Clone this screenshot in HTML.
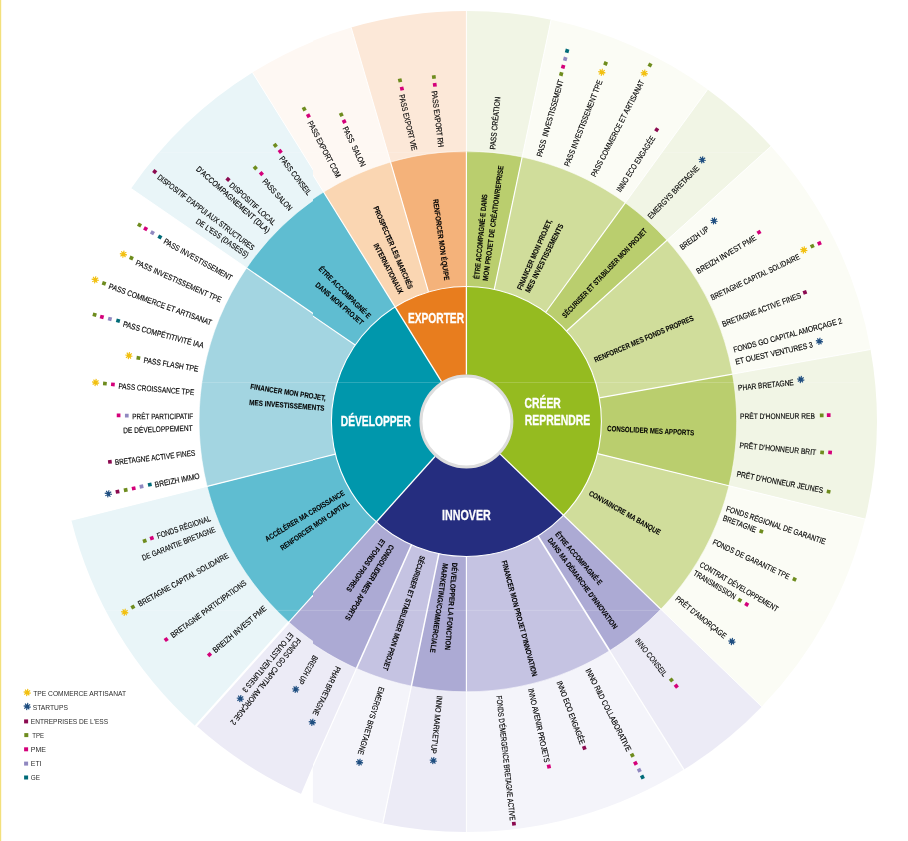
<!DOCTYPE html>
<html lang="fr">
<head>
<meta charset="utf-8">
<title>Dispositifs d'accompagnement</title>
<style>
html,body{margin:0;padding:0;background:#fff;}
body{width:908px;height:841px;overflow:hidden;font-family:"Liberation Sans",sans-serif;}
</style>
</head>
<body>
<svg width="908" height="841" viewBox="0 0 908 841" font-family="'Liberation Sans', sans-serif" style="display:block">
<rect x="0" y="0" width="908" height="841" fill="#ffffff"/>
<rect x="0" y="0" width="1.2" height="841" fill="#F3E07C"/>
<defs>
<clipPath id="cR"><rect x="313" y="0" width="600" height="841"/></clipPath>
<clipPath id="cL"><rect x="0" y="0" width="313" height="841"/></clipPath>
<g id="rings">
<path d="M466.40,151.70 L466.40,11.00 A410.50,410.50 0 0 1 551.05,19.82 L522.03,157.50 A269.80,269.80 0 0 0 466.40,151.70 Z" fill="#F1F5E5" />
<path d="M522.03,157.50 L551.05,19.82 A410.50,410.50 0 0 1 707.69,89.40 L624.98,203.23 A269.80,269.80 0 0 0 522.03,157.50 Z" fill="#FBFCF5" />
<path d="M624.98,203.23 L707.69,89.40 A410.50,410.50 0 0 1 770.98,146.29 L666.59,240.62 A269.80,269.80 0 0 0 624.98,203.23 Z" fill="#F1F5E5" />
<path d="M666.59,240.62 L770.98,146.29 A410.50,410.50 0 0 1 870.54,349.51 L732.02,374.19 A269.80,269.80 0 0 0 666.59,240.62 Z" fill="#FBFCF5" />
<path d="M732.02,374.19 L870.54,349.51 A410.50,410.50 0 0 1 865.14,519.07 L728.47,485.63 A269.80,269.80 0 0 0 732.02,374.19 Z" fill="#F1F5E5" />
<path d="M728.47,485.63 L865.14,519.07 A410.50,410.50 0 0 1 761.69,706.66 L660.48,608.92 A269.80,269.80 0 0 0 728.47,485.63 Z" fill="#FBFCF5" />
<path d="M660.48,608.92 L761.69,706.66 A410.50,410.50 0 0 1 683.93,769.62 L609.37,650.30 A269.80,269.80 0 0 0 660.48,608.92 Z" fill="#ECEBF6" />
<path d="M609.37,650.30 L683.93,769.62 A410.50,410.50 0 0 1 466.40,832.00 L466.40,691.30 A269.80,269.80 0 0 0 609.37,650.30 Z" fill="#F4F4FA" />
<path d="M466.40,691.30 L466.40,832.00 A410.50,410.50 0 0 1 382.81,823.40 L411.46,685.65 A269.80,269.80 0 0 0 466.40,691.30 Z" fill="#ECEBF6" />
<path d="M411.46,685.65 L382.81,823.40 A410.50,410.50 0 0 1 299.43,796.51 L356.66,667.97 A269.80,269.80 0 0 0 411.46,685.65 Z" fill="#F4F4FA" />
<path d="M356.66,667.97 L299.96,795.32 A409.20,409.20 0 0 1 193.12,726.07 L286.22,622.32 A269.80,269.80 0 0 0 356.66,667.97 Z" fill="#ECEBF6" />
<path d="M286.22,622.32 L192.46,726.82 A410.20,410.20 0 0 1 68.38,520.74 L204.61,486.77 A269.80,269.80 0 0 0 286.22,622.32 Z" fill="#E9F5F8" />
<path d="M204.61,486.77 L68.09,520.81 A410.50,410.50 0 0 1 128.10,188.99 L244.05,268.68 A269.80,269.80 0 0 0 204.61,486.77 Z" fill="#FFFFFF" />
<path d="M244.05,268.68 L128.10,188.99 A410.50,410.50 0 0 1 249.48,73.00 L323.83,192.45 A269.80,269.80 0 0 0 244.05,268.68 Z" fill="#E9F5F8" />
<path d="M323.83,192.45 L249.48,73.00 A410.50,410.50 0 0 1 351.19,27.50 L390.68,162.54 A269.80,269.80 0 0 0 323.83,192.45 Z" fill="#FEF8F3" />
<path d="M390.68,162.54 L351.19,27.50 A410.50,410.50 0 0 1 466.40,11.00 L466.40,151.70 A269.80,269.80 0 0 0 390.68,162.54 Z" fill="#FCE8D8" />
<path d="M466.40,287.00 L466.40,151.20 A270.30,270.30 0 0 1 522.14,157.01 L494.13,289.89 A134.50,134.50 0 0 0 466.40,287.00 Z" fill="#BACE6E" />
<path d="M494.13,289.89 L522.14,157.01 A270.30,270.30 0 0 1 625.28,202.82 L545.46,312.69 A134.50,134.50 0 0 0 494.13,289.89 Z" fill="#D0DD9B" />
<path d="M545.46,312.69 L625.28,202.82 A270.30,270.30 0 0 1 666.96,240.28 L566.20,331.33 A134.50,134.50 0 0 0 545.46,312.69 Z" fill="#BACE6E" />
<path d="M566.20,331.33 L666.96,240.28 A270.30,270.30 0 0 1 732.51,374.10 L598.82,397.91 A134.50,134.50 0 0 0 566.20,331.33 Z" fill="#D0DD9B" />
<path d="M598.82,397.91 L732.51,374.10 A270.30,270.30 0 0 1 728.95,485.75 L597.05,453.47 A134.50,134.50 0 0 0 598.82,397.91 Z" fill="#BACE6E" />
<path d="M597.05,453.47 L728.95,485.75 A270.30,270.30 0 0 1 660.84,609.27 L563.15,514.93 A134.50,134.50 0 0 0 597.05,453.47 Z" fill="#D0DD9B" />
<path d="M563.15,514.93 L660.84,609.27 A270.30,270.30 0 0 1 609.64,650.73 L537.67,535.56 A134.50,134.50 0 0 0 563.15,514.93 Z" fill="#ACAAD4" />
<path d="M537.67,535.56 L609.64,650.73 A270.30,270.30 0 0 1 466.40,691.80 L466.40,556.00 A134.50,134.50 0 0 0 537.67,535.56 Z" fill="#C5C3E2" />
<path d="M466.40,556.00 L466.40,691.80 A270.30,270.30 0 0 1 411.36,686.14 L439.01,553.18 A134.50,134.50 0 0 0 466.40,556.00 Z" fill="#ACAAD4" />
<path d="M439.01,553.18 L411.36,686.14 A270.30,270.30 0 0 1 356.46,668.43 L411.69,544.37 A134.50,134.50 0 0 0 439.01,553.18 Z" fill="#C5C3E2" />
<path d="M411.69,544.37 L356.46,668.43 A270.30,270.30 0 0 1 285.88,622.69 L376.58,521.61 A134.50,134.50 0 0 0 411.69,544.37 Z" fill="#ACAAD4" />
<path d="M376.58,521.61 L285.88,622.69 A270.30,270.30 0 0 1 204.13,486.89 L335.90,454.04 A134.50,134.50 0 0 0 376.58,521.61 Z" fill="#5FBDD1" />
<path d="M335.90,454.04 L204.13,486.89 A270.30,270.30 0 0 1 243.64,268.40 L355.56,345.32 A134.50,134.50 0 0 0 335.90,454.04 Z" fill="#A3D5E1" />
<path d="M355.56,345.32 L243.64,268.40 A270.30,270.30 0 0 1 323.56,192.02 L395.33,307.31 A134.50,134.50 0 0 0 355.56,345.32 Z" fill="#5FBDD1" />
<path d="M395.33,307.31 L323.56,192.02 A270.30,270.30 0 0 1 390.54,162.06 L428.65,292.41 A134.50,134.50 0 0 0 395.33,307.31 Z" fill="#FAD6B2" />
<path d="M428.65,292.41 L390.54,162.06 A270.30,270.30 0 0 1 466.40,151.20 L466.40,287.00 A134.50,134.50 0 0 0 428.65,292.41 Z" fill="#F4B27A" />
<path d="M466.40,376.50 L466.40,286.50 A135.00,135.00 0 0 1 563.51,515.28 L498.77,452.76 A45.00,45.00 0 0 0 466.40,376.50 Z" fill="#95BB20" />
<path d="M498.77,452.76 L563.51,515.28 A135.00,135.00 0 0 1 376.24,521.98 L436.35,454.99 A45.00,45.00 0 0 0 498.77,452.76 Z" fill="#252D7F" />
<path d="M436.35,454.99 L376.24,521.98 A135.00,135.00 0 0 1 395.06,306.89 L442.62,383.30 A45.00,45.00 0 0 0 436.35,454.99 Z" fill="#0097AC" />
<path d="M442.62,383.30 L395.06,306.89 A135.00,135.00 0 0 1 466.40,286.50 L466.40,376.50 A45.00,45.00 0 0 0 442.62,383.30 Z" fill="#E87D1E" />
<line x1="466.40" y1="151.20" x2="466.40" y2="11.00" stroke="#ffffff" stroke-width="0.9" stroke-opacity="1"/>
<line x1="466.40" y1="286.50" x2="466.40" y2="151.20" stroke="#ffffff" stroke-width="1.15" stroke-opacity="1"/>
<line x1="522.14" y1="157.01" x2="551.05" y2="19.82" stroke="#ffffff" stroke-width="0.9" stroke-opacity="1"/>
<line x1="494.24" y1="289.40" x2="522.14" y2="157.01" stroke="#ffffff" stroke-width="1.15" stroke-opacity="1"/>
<line x1="625.28" y1="202.82" x2="707.69" y2="89.40" stroke="#ffffff" stroke-width="0.9" stroke-opacity="1"/>
<line x1="545.75" y1="312.28" x2="625.28" y2="202.82" stroke="#ffffff" stroke-width="1.15" stroke-opacity="1"/>
<line x1="666.96" y1="240.28" x2="770.98" y2="146.29" stroke="#ffffff" stroke-width="0.9" stroke-opacity="1"/>
<line x1="566.57" y1="330.99" x2="666.96" y2="240.28" stroke="#ffffff" stroke-width="1.15" stroke-opacity="1"/>
<line x1="732.51" y1="374.10" x2="870.54" y2="349.51" stroke="#ffffff" stroke-width="0.9" stroke-opacity="1"/>
<line x1="599.31" y1="397.83" x2="732.51" y2="374.10" stroke="#ffffff" stroke-width="1.15" stroke-opacity="1"/>
<line x1="728.95" y1="485.75" x2="865.14" y2="519.07" stroke="#ffffff" stroke-width="0.9" stroke-opacity="1"/>
<line x1="597.53" y1="453.59" x2="728.95" y2="485.75" stroke="#ffffff" stroke-width="1.15" stroke-opacity="1"/>
<line x1="660.84" y1="609.27" x2="761.69" y2="706.66" stroke="#ffffff" stroke-width="0.9" stroke-opacity="1"/>
<line x1="563.51" y1="515.28" x2="660.84" y2="609.27" stroke="#ffffff" stroke-width="1.15" stroke-opacity="1"/>
<line x1="609.64" y1="650.73" x2="683.93" y2="769.62" stroke="#ffffff" stroke-width="1.3" stroke-opacity="1"/>
<line x1="537.94" y1="535.99" x2="609.64" y2="650.73" stroke="#ffffff" stroke-width="1.7" stroke-opacity="1"/>
<line x1="466.40" y1="691.80" x2="466.40" y2="832.00" stroke="#ffffff" stroke-width="0.9" stroke-opacity="1"/>
<line x1="466.40" y1="556.50" x2="466.40" y2="691.80" stroke="#ffffff" stroke-width="1.15" stroke-opacity="1"/>
<line x1="411.36" y1="686.14" x2="382.81" y2="823.40" stroke="#ffffff" stroke-width="1.2" stroke-opacity="1"/>
<line x1="438.91" y1="553.67" x2="411.36" y2="686.14" stroke="#ffffff" stroke-width="1.5" stroke-opacity="1"/>
<line x1="356.46" y1="668.43" x2="299.96" y2="795.32" stroke="#ffffff" stroke-width="1.2" stroke-opacity="1"/>
<line x1="411.49" y1="544.83" x2="356.46" y2="668.43" stroke="#ffffff" stroke-width="1.5" stroke-opacity="1"/>
<line x1="285.88" y1="622.69" x2="193.12" y2="726.07" stroke="#ffffff" stroke-width="0.9" stroke-opacity="1"/>
<line x1="376.24" y1="521.98" x2="285.88" y2="622.69" stroke="#ffffff" stroke-width="1.15" stroke-opacity="1"/>
<line x1="204.13" y1="486.89" x2="68.38" y2="520.74" stroke="#ffffff" stroke-width="0.9" stroke-opacity="1"/>
<line x1="335.41" y1="454.16" x2="204.13" y2="486.89" stroke="#ffffff" stroke-width="1.15" stroke-opacity="1"/>
<line x1="243.64" y1="268.40" x2="128.10" y2="188.99" stroke="#ffffff" stroke-width="0.9" stroke-opacity="1"/>
<line x1="355.14" y1="345.04" x2="243.64" y2="268.40" stroke="#ffffff" stroke-width="1.15" stroke-opacity="1"/>
<line x1="323.56" y1="192.02" x2="249.48" y2="73.00" stroke="#ffffff" stroke-width="0.9" stroke-opacity="1"/>
<line x1="395.06" y1="306.89" x2="323.56" y2="192.02" stroke="#ffffff" stroke-width="1.15" stroke-opacity="1"/>
<line x1="390.54" y1="162.06" x2="351.19" y2="27.50" stroke="#ffffff" stroke-width="0.9" stroke-opacity="1"/>
<line x1="428.51" y1="291.93" x2="390.54" y2="162.06" stroke="#ffffff" stroke-width="1.15" stroke-opacity="1"/>
<line x1="466.40" y1="374.50" x2="466.40" y2="286.50" stroke="#ffffff" stroke-width="1.3" stroke-opacity="1"/>
<line x1="500.21" y1="454.15" x2="563.51" y2="515.28" stroke="#ffffff" stroke-width="1.3" stroke-opacity="1"/>
<line x1="435.01" y1="456.48" x2="376.24" y2="521.98" stroke="#ffffff" stroke-width="1.3" stroke-opacity="1"/>
<line x1="441.56" y1="381.60" x2="395.06" y2="306.89" stroke="#ffffff" stroke-width="1.3" stroke-opacity="1"/>
<line x1="285.88" y1="622.69" x2="192.59" y2="726.67" stroke="#ffffff" stroke-width="2.2" stroke-opacity="1"/>
<circle cx="466.4" cy="421.5" r="135.0" fill="none" stroke="#ffffff" stroke-width="1.1"/>
<circle cx="466.4" cy="421.5" r="270.3" fill="none" stroke="#ffffff" stroke-width="0.7" stroke-opacity="0.8"/>
<circle cx="466.4" cy="421.5" r="45.5" fill="#ffffff" stroke="#DDDDDD" stroke-width="3"/>
</g>
</defs>
<g clip-path="url(#cR)"><use href="#rings"/></g>
<g clip-path="url(#cL)"><use href="#rings" transform="translate(3,-0.5)"/></g>
<path d="M312.9,766 L312.9,805 L296,805 L301.2,793.6 Z" fill="#ffffff"/>
<rect x="60" y="151.9" width="800" height="0.8" fill="#ffffff" fill-opacity="0.22"/>
<rect x="60" y="382.0" width="800" height="0.8" fill="#ffffff" fill-opacity="0.22"/>
<rect x="60" y="609.9" width="800" height="0.8" fill="#ffffff" fill-opacity="0.22"/>
<g>
<rect x="-1.85" y="-1.85" width="3.7" height="3.7" fill="#6E8C1E" transform="translate(561.20,74.10) rotate(-74.1)"/>
<rect x="-1.85" y="-1.85" width="3.7" height="3.7" fill="#D4007A" transform="translate(563.10,66.70) rotate(-74.1)"/>
<rect x="-1.85" y="-1.85" width="3.7" height="3.7" fill="#9088C0" transform="translate(565.20,58.90) rotate(-74.1)"/>
<rect x="-1.85" y="-1.85" width="3.7" height="3.7" fill="#006B78" transform="translate(567.10,50.90) rotate(-74.1)"/>
<path d="M598.25,71.67L605.35,72.93 M599.74,69.35L603.86,75.25 M602.43,68.75L601.17,75.85 M604.75,70.24L598.85,74.36" stroke="#F2C010" stroke-width="1.15" fill="none"/><circle cx="601.80" cy="72.30" r="1.9" fill="#F2C010"/>
<rect x="-1.85" y="-1.85" width="3.7" height="3.7" fill="#6E8C1E" transform="translate(605.60,63.50) rotate(-68.6)"/>
<path d="M640.75,72.57L647.85,73.83 M642.24,70.25L646.36,76.15 M644.93,69.65L643.67,76.75 M647.25,71.14L641.35,75.26" stroke="#F2C010" stroke-width="1.15" fill="none"/><circle cx="644.30" cy="73.20" r="1.9" fill="#F2C010"/>
<rect x="-1.85" y="-1.85" width="3.7" height="3.7" fill="#6E8C1E" transform="translate(650.00,65.00) rotate(-62.8)"/>
<rect x="-1.85" y="-1.85" width="3.7" height="3.7" fill="#8B0A50" transform="translate(656.70,129.70) rotate(-57.2)"/>
<path d="M698.65,159.27L705.75,160.53 M700.14,156.95L704.26,162.85 M702.83,156.35L701.57,163.45 M705.15,157.84L699.25,161.96" stroke="#1F4E80" stroke-width="1.15" fill="none"/><circle cx="702.20" cy="159.90" r="1.9" fill="#1F4E80"/>
<path d="M710.45,220.27L717.55,221.53 M711.94,217.95L716.06,223.85 M714.63,217.35L713.37,224.45 M716.95,218.84L711.05,222.96" stroke="#1F4E80" stroke-width="1.15" fill="none"/><circle cx="714.00" cy="220.90" r="1.9" fill="#1F4E80"/>
<rect x="-1.85" y="-1.85" width="3.7" height="3.7" fill="#D4007A" transform="translate(759.00,232.30) rotate(-30.6)"/>
<path d="M800.25,249.37L807.35,250.63 M801.74,247.05L805.86,252.95 M804.43,246.45L803.17,253.55 M806.75,247.94L800.85,252.06" stroke="#F2C010" stroke-width="1.15" fill="none"/><circle cx="803.80" cy="250.00" r="1.9" fill="#F2C010"/>
<rect x="-1.85" y="-1.85" width="3.7" height="3.7" fill="#6E8C1E" transform="translate(812.30,246.10) rotate(-25.3)"/>
<rect x="-1.85" y="-1.85" width="3.7" height="3.7" fill="#D4007A" transform="translate(819.40,243.30) rotate(-25.3)"/>
<rect x="-1.85" y="-1.85" width="3.7" height="3.7" fill="#8B0A50" transform="translate(804.90,292.40) rotate(-20.4)"/>
<path d="M815.85,340.67L822.95,341.93 M817.34,338.35L821.46,344.25 M820.03,337.75L818.77,344.85 M822.35,339.24L816.45,343.36" stroke="#1F4E80" stroke-width="1.15" fill="none"/><circle cx="819.40" cy="341.30" r="1.9" fill="#1F4E80"/>
<path d="M797.25,378.87L804.35,380.13 M798.74,376.55L802.86,382.45 M801.43,375.95L800.17,383.05 M803.75,377.44L797.85,381.56" stroke="#1F4E80" stroke-width="1.15" fill="none"/><circle cx="800.80" cy="379.50" r="1.9" fill="#1F4E80"/>
<rect x="-1.85" y="-1.85" width="3.7" height="3.7" fill="#6E8C1E" transform="translate(821.70,415.30) rotate(-0.3)"/>
<rect x="-1.85" y="-1.85" width="3.7" height="3.7" fill="#D4007A" transform="translate(828.70,415.10) rotate(-0.3)"/>
<rect x="-1.85" y="-1.85" width="3.7" height="3.7" fill="#6E8C1E" transform="translate(822.10,452.40) rotate(5.3)"/>
<rect x="-1.85" y="-1.85" width="3.7" height="3.7" fill="#D4007A" transform="translate(830.10,452.40) rotate(5.3)"/>
<rect x="-1.85" y="-1.85" width="3.7" height="3.7" fill="#6E8C1E" transform="translate(828.60,491.60) rotate(10.8)"/>
<rect x="-1.85" y="-1.85" width="3.7" height="3.7" fill="#6E8C1E" transform="translate(761.30,531.40) rotate(20.5)"/>
<rect x="-1.85" y="-1.85" width="3.7" height="3.7" fill="#6E8C1E" transform="translate(794.50,579.30) rotate(25.1)"/>
<rect x="-1.85" y="-1.85" width="3.7" height="3.7" fill="#6E8C1E" transform="translate(739.80,600.20) rotate(31.0)"/>
<rect x="-1.85" y="-1.85" width="3.7" height="3.7" fill="#D4007A" transform="translate(746.70,604.40) rotate(31.0)"/>
<path d="M728.35,640.87L735.45,642.13 M729.84,638.55L733.96,644.45 M732.53,637.95L731.27,645.05 M734.85,639.44L728.95,643.56" stroke="#1F4E80" stroke-width="1.15" fill="none"/><circle cx="731.90" cy="641.50" r="1.9" fill="#1F4E80"/>
<rect x="-1.85" y="-1.85" width="3.7" height="3.7" fill="#6E8C1E" transform="translate(671.40,680.00) rotate(51.4)"/>
<rect x="-1.85" y="-1.85" width="3.7" height="3.7" fill="#D4007A" transform="translate(676.30,686.10) rotate(51.4)"/>
<rect x="-1.85" y="-1.85" width="3.7" height="3.7" fill="#6E8C1E" transform="translate(632.30,755.20) rotate(63.1)"/>
<rect x="-1.85" y="-1.85" width="3.7" height="3.7" fill="#D4007A" transform="translate(635.50,763.20) rotate(63.1)"/>
<rect x="-1.85" y="-1.85" width="3.7" height="3.7" fill="#9088C0" transform="translate(639.30,770.20) rotate(63.1)"/>
<rect x="-1.85" y="-1.85" width="3.7" height="3.7" fill="#006B78" transform="translate(642.40,777.10) rotate(63.1)"/>
<rect x="-1.85" y="-1.85" width="3.7" height="3.7" fill="#8B0A50" transform="translate(584.30,747.80) rotate(69.4)"/>
<rect x="-1.85" y="-1.85" width="3.7" height="3.7" fill="#D4007A" transform="translate(548.90,766.50) rotate(77.4)"/>
<rect x="-1.85" y="-1.85" width="3.7" height="3.7" fill="#8B0A50" transform="translate(513.90,823.70) rotate(83.7)"/>
<path d="M429.75,759.97L436.85,761.23 M431.24,757.65L435.36,763.55 M433.93,757.05L432.67,764.15 M436.25,758.54L430.35,762.66" stroke="#1F4E80" stroke-width="1.15" fill="none"/><circle cx="433.30" cy="760.60" r="1.9" fill="#1F4E80"/>
<path d="M355.95,761.67L363.05,762.93 M357.44,759.35L361.56,765.25 M360.13,758.75L358.87,765.85 M362.45,760.24L356.55,764.36" stroke="#1F4E80" stroke-width="1.15" fill="none"/><circle cx="359.50" cy="762.30" r="1.9" fill="#1F4E80"/>
<path d="M308.75,721.67L315.85,722.93 M310.24,719.35L314.36,725.25 M312.93,718.75L311.67,725.85 M315.25,720.24L309.35,724.36" stroke="#1F4E80" stroke-width="1.15" fill="none"/><circle cx="312.30" cy="722.30" r="1.9" fill="#1F4E80"/>
<path d="M292.15,688.77L299.25,690.03 M293.64,686.45L297.76,692.35 M296.33,685.85L295.07,692.95 M298.65,687.34L292.75,691.46" stroke="#1F4E80" stroke-width="1.15" fill="none"/><circle cx="295.70" cy="689.40" r="1.9" fill="#1F4E80"/>
<path d="M236.75,697.97L243.85,699.23 M238.24,695.65L242.36,701.55 M240.93,695.05L239.67,702.15 M243.25,696.54L237.35,700.66" stroke="#1F4E80" stroke-width="1.15" fill="none"/><circle cx="240.30" cy="698.60" r="1.9" fill="#1F4E80"/>
<rect x="-1.85" y="-1.85" width="3.7" height="3.7" fill="#D4007A" transform="translate(209.50,654.60) rotate(-40.5)"/>
<rect x="-1.85" y="-1.85" width="3.7" height="3.7" fill="#D4007A" transform="translate(166.20,639.50) rotate(-36.1)"/>
<rect x="-1.85" y="-1.85" width="3.7" height="3.7" fill="#6E8C1E" transform="translate(132.90,607.10) rotate(-28.9)"/>
<path d="M121.15,611.67L128.25,612.93 M122.64,609.35L126.76,615.25 M125.33,608.75L124.07,615.85 M127.65,610.24L121.75,614.36" stroke="#F2C010" stroke-width="1.15" fill="none"/><circle cx="124.70" cy="612.30" r="1.9" fill="#F2C010"/>
<rect x="-1.85" y="-1.85" width="3.7" height="3.7" fill="#D4007A" transform="translate(151.80,538.10) rotate(-18.7)"/>
<rect x="-1.85" y="-1.85" width="3.7" height="3.7" fill="#6E8C1E" transform="translate(144.70,540.90) rotate(-18.7)"/>
<rect x="-1.85" y="-1.85" width="3.7" height="3.7" fill="#006B78" transform="translate(149.80,484.60) rotate(-11.2)"/>
<rect x="-1.85" y="-1.85" width="3.7" height="3.7" fill="#9088C0" transform="translate(141.50,486.50) rotate(-11.2)"/>
<rect x="-1.85" y="-1.85" width="3.7" height="3.7" fill="#D4007A" transform="translate(133.70,488.40) rotate(-11.2)"/>
<rect x="-1.85" y="-1.85" width="3.7" height="3.7" fill="#6E8C1E" transform="translate(125.70,490.00) rotate(-11.2)"/>
<rect x="-1.85" y="-1.85" width="3.7" height="3.7" fill="#8B0A50" transform="translate(117.50,491.70) rotate(-11.2)"/>
<path d="M104.75,493.17L111.85,494.43 M106.24,490.85L110.36,496.75 M108.93,490.25L107.67,497.35 M111.25,491.74L105.35,495.86" stroke="#1F4E80" stroke-width="1.15" fill="none"/><circle cx="108.30" cy="493.80" r="1.9" fill="#1F4E80"/>
<rect x="-1.85" y="-1.85" width="3.7" height="3.7" fill="#8B0A50" transform="translate(109.90,461.80) rotate(-6.7)"/>
<rect x="-1.85" y="-1.85" width="3.7" height="3.7" fill="#9088C0" transform="translate(126.80,415.60) rotate(-0.4)"/>
<rect x="-1.85" y="-1.85" width="3.7" height="3.7" fill="#D4007A" transform="translate(118.60,415.40) rotate(-0.4)"/>
<rect x="-1.85" y="-1.85" width="3.7" height="3.7" fill="#D4007A" transform="translate(112.90,384.40) rotate(4.9)"/>
<rect x="-1.85" y="-1.85" width="3.7" height="3.7" fill="#6E8C1E" transform="translate(104.90,383.60) rotate(4.9)"/>
<path d="M92.05,381.87L99.15,383.13 M93.54,379.55L97.66,385.45 M96.23,378.95L94.97,386.05 M98.55,380.44L92.65,384.56" stroke="#F2C010" stroke-width="1.15" fill="none"/><circle cx="95.60" cy="382.50" r="1.9" fill="#F2C010"/>
<rect x="-1.85" y="-1.85" width="3.7" height="3.7" fill="#6E8C1E" transform="translate(138.40,357.90) rotate(9.5)"/>
<path d="M125.35,354.97L132.45,356.23 M126.84,352.65L130.96,358.55 M129.53,352.05L128.27,359.15 M131.85,353.54L125.95,357.66" stroke="#F2C010" stroke-width="1.15" fill="none"/><circle cx="128.90" cy="355.60" r="1.9" fill="#F2C010"/>
<rect x="-1.85" y="-1.85" width="3.7" height="3.7" fill="#006B78" transform="translate(118.10,320.80) rotate(15.1)"/>
<rect x="-1.85" y="-1.85" width="3.7" height="3.7" fill="#9088C0" transform="translate(109.90,318.90) rotate(15.1)"/>
<rect x="-1.85" y="-1.85" width="3.7" height="3.7" fill="#D4007A" transform="translate(101.90,316.90) rotate(15.1)"/>
<rect x="-1.85" y="-1.85" width="3.7" height="3.7" fill="#6E8C1E" transform="translate(94.60,314.70) rotate(15.1)"/>
<rect x="-1.85" y="-1.85" width="3.7" height="3.7" fill="#6E8C1E" transform="translate(104.00,283.30) rotate(19.8)"/>
<path d="M91.65,279.17L98.75,280.43 M93.14,276.85L97.26,282.75 M95.83,276.25L94.57,283.35 M98.15,277.74L92.25,281.86" stroke="#F2C010" stroke-width="1.15" fill="none"/><circle cx="95.20" cy="279.80" r="1.9" fill="#F2C010"/>
<rect x="-1.85" y="-1.85" width="3.7" height="3.7" fill="#6E8C1E" transform="translate(131.40,258.00) rotate(24.1)"/>
<path d="M119.85,253.57L126.95,254.83 M121.34,251.25L125.46,257.15 M124.03,250.65L122.77,257.75 M126.35,252.14L120.45,256.26" stroke="#F2C010" stroke-width="1.15" fill="none"/><circle cx="123.40" cy="254.20" r="1.9" fill="#F2C010"/>
<rect x="-1.85" y="-1.85" width="3.7" height="3.7" fill="#006B78" transform="translate(159.90,237.00) rotate(29.1)"/>
<rect x="-1.85" y="-1.85" width="3.7" height="3.7" fill="#9088C0" transform="translate(152.40,232.80) rotate(29.1)"/>
<rect x="-1.85" y="-1.85" width="3.7" height="3.7" fill="#D4007A" transform="translate(145.60,228.70) rotate(29.1)"/>
<rect x="-1.85" y="-1.85" width="3.7" height="3.7" fill="#6E8C1E" transform="translate(139.50,225.00) rotate(29.1)"/>
<rect x="-1.85" y="-1.85" width="3.7" height="3.7" fill="#8B0A50" transform="translate(154.70,171.60) rotate(37.2)"/>
<rect x="-1.85" y="-1.85" width="3.7" height="3.7" fill="#8B0A50" transform="translate(228.00,179.40) rotate(42.1)"/>
<rect x="-1.85" y="-1.85" width="3.7" height="3.7" fill="#D4007A" transform="translate(261.40,173.70) rotate(47.9)"/>
<rect x="-1.85" y="-1.85" width="3.7" height="3.7" fill="#6E8C1E" transform="translate(255.30,167.80) rotate(47.9)"/>
<rect x="-1.85" y="-1.85" width="3.7" height="3.7" fill="#D4007A" transform="translate(280.20,151.30) rotate(52.5)"/>
<rect x="-1.85" y="-1.85" width="3.7" height="3.7" fill="#6E8C1E" transform="translate(275.30,145.30) rotate(52.5)"/>
<rect x="-1.85" y="-1.85" width="3.7" height="3.7" fill="#D4007A" transform="translate(308.40,115.80) rotate(62.5)"/>
<rect x="-1.85" y="-1.85" width="3.7" height="3.7" fill="#6E8C1E" transform="translate(304.20,108.90) rotate(62.5)"/>
<rect x="-1.85" y="-1.85" width="3.7" height="3.7" fill="#D4007A" transform="translate(344.20,121.50) rotate(64.3)"/>
<rect x="-1.85" y="-1.85" width="3.7" height="3.7" fill="#6E8C1E" transform="translate(341.30,114.60) rotate(64.3)"/>
<rect x="-1.85" y="-1.85" width="3.7" height="3.7" fill="#D4007A" transform="translate(401.90,88.60) rotate(76.8)"/>
<rect x="-1.85" y="-1.85" width="3.7" height="3.7" fill="#6E8C1E" transform="translate(400.00,80.40) rotate(76.8)"/>
<rect x="-1.85" y="-1.85" width="3.7" height="3.7" fill="#D4007A" transform="translate(434.80,84.80) rotate(82.9)"/>
<rect x="-1.85" y="-1.85" width="3.7" height="3.7" fill="#6E8C1E" transform="translate(433.90,77.00) rotate(82.9)"/>
<path d="M23.65,691.87L30.75,693.13 M25.14,689.55L29.26,695.45 M27.83,688.95L26.57,696.05 M30.15,690.44L24.25,694.56" stroke="#F2C010" stroke-width="1.15" fill="none"/><circle cx="27.20" cy="692.50" r="1.9" fill="#F2C010"/>
<path d="M23.65,705.87L30.75,707.13 M25.14,703.55L29.26,709.45 M27.83,702.95L26.57,710.05 M30.15,704.44L24.25,708.56" stroke="#1F4E80" stroke-width="1.15" fill="none"/><circle cx="27.20" cy="706.50" r="1.9" fill="#1F4E80"/>
<rect x="-2.00" y="-2.00" width="4" height="4" fill="#8B0A50" transform="translate(26.10,721.40) rotate(0.0)"/>
<rect x="-2.00" y="-2.00" width="4" height="4" fill="#6E8C1E" transform="translate(26.30,735.10) rotate(0.0)"/>
<rect x="-2.00" y="-2.00" width="4" height="4" fill="#D4007A" transform="translate(26.10,749.30) rotate(0.0)"/>
<rect x="-2.00" y="-2.00" width="4" height="4" fill="#9088C0" transform="translate(26.10,763.60) rotate(0.0)"/>
<rect x="-2.00" y="-2.00" width="4" height="4" fill="#006B78" transform="translate(26.10,777.50) rotate(0.0)"/>
</g>
<g opacity="0.999">
<text transform="translate(492.30,149.50) rotate(-84.39)" font-size="8.0" dy="2.86" textLength="53.2" lengthAdjust="spacingAndGlyphs" fill="#000" stroke="#000" stroke-width="0.15" xml:space="preserve">PASS CRÉATION</text>
<text transform="translate(539.00,156.50) rotate(-74.13)" font-size="8.0" dy="2.86" textLength="79.7" lengthAdjust="spacingAndGlyphs" fill="#000" stroke="#000" stroke-width="0.15" xml:space="preserve">PASS  INVESTISSEMENT</text>
<text transform="translate(566.30,166.00) rotate(-68.57)" font-size="8.0" dy="2.86" textLength="92.0" lengthAdjust="spacingAndGlyphs" fill="#000" stroke="#000" stroke-width="0.15" xml:space="preserve">PASS INVESTISSEMENT TPE</text>
<text transform="translate(592.90,176.20) rotate(-62.77)" font-size="8.0" dy="2.86" textLength="107.7" lengthAdjust="spacingAndGlyphs" fill="#000" stroke="#000" stroke-width="0.15" xml:space="preserve">PASS COMMERCE ET ARTISANAT</text>
<text transform="translate(618.00,191.20) rotate(-57.19)" font-size="8.0" dy="2.86" textLength="65.0" lengthAdjust="spacingAndGlyphs" fill="#000" stroke="#000" stroke-width="0.15" xml:space="preserve">INNO ECO ENGAGÉE</text>
<text transform="translate(648.90,217.50) rotate(-46.15)" font-size="8.0" dy="2.86" textLength="70.4" lengthAdjust="spacingAndGlyphs" fill="#000" stroke="#000" stroke-width="0.15" xml:space="preserve">EMERGYS BRETAGNE</text>
<text transform="translate(680.50,248.00) rotate(-36.13)" font-size="8.0" dy="2.86" textLength="33.9" lengthAdjust="spacingAndGlyphs" fill="#000" stroke="#000" stroke-width="0.15" xml:space="preserve">BREIZH UP</text>
<text transform="translate(696.90,271.70) rotate(-30.63)" font-size="8.0" dy="2.86" textLength="68.1" lengthAdjust="spacingAndGlyphs" fill="#000" stroke="#000" stroke-width="0.15" xml:space="preserve">BREIZH INVEST PME</text>
<text transform="translate(710.90,297.90) rotate(-25.34)" font-size="8.0" dy="2.86" textLength="97.9" lengthAdjust="spacingAndGlyphs" fill="#000" stroke="#000" stroke-width="0.15" xml:space="preserve">BRETAGNE CAPITAL SOLIDAIRE</text>
<text transform="translate(722.30,324.20) rotate(-20.43)" font-size="8.0" dy="2.86" textLength="83.7" lengthAdjust="spacingAndGlyphs" fill="#000" stroke="#000" stroke-width="0.15" xml:space="preserve">BRETAGNE ACTIVE FINES</text>
<text transform="translate(733.40,349.80) rotate(-15.17)" font-size="8.0" dy="2.86" textLength="112.3" lengthAdjust="spacingAndGlyphs" fill="#000" stroke="#000" stroke-width="0.15" xml:space="preserve">FONDS GO CAPITAL AMORÇAGE 2</text>
<text transform="translate(735.30,361.60) rotate(-12.46)" font-size="8.0" dy="2.86" textLength="79.3" lengthAdjust="spacingAndGlyphs" fill="#000" stroke="#000" stroke-width="0.15" xml:space="preserve">ET OUEST VENTURES 3</text>
<text transform="translate(738.00,387.70) rotate(-5.54)" font-size="8.0" dy="2.86" textLength="56.0" lengthAdjust="spacingAndGlyphs" fill="#000" stroke="#000" stroke-width="0.15" xml:space="preserve">PHAR BRETAGNE</text>
<text transform="translate(739.90,416.20) rotate(-0.31)" font-size="8.0" dy="2.86" textLength="75.1" lengthAdjust="spacingAndGlyphs" fill="#000" stroke="#000" stroke-width="0.15" xml:space="preserve">PRÊT D'HONNEUR REB</text>
<text transform="translate(739.50,445.10) rotate(5.29)" font-size="8.0" dy="2.86" textLength="77.0" lengthAdjust="spacingAndGlyphs" fill="#000" stroke="#000" stroke-width="0.15" xml:space="preserve">PRÊT D'HONNEUR BRIT</text>
<text transform="translate(736.70,473.70) rotate(10.80)" font-size="8.0" dy="2.86" textLength="88.1" lengthAdjust="spacingAndGlyphs" fill="#000" stroke="#000" stroke-width="0.15" xml:space="preserve">PRÊT D'HONNEUR JEUNES</text>
<text transform="translate(726.50,508.20) rotate(18.75)" font-size="8.0" dy="2.86" textLength="104.5" lengthAdjust="spacingAndGlyphs" fill="#000" stroke="#000" stroke-width="0.15" xml:space="preserve">FONDS RÉGIONAL DE GARANTIE</text>
<text transform="translate(723.30,517.50) rotate(20.50)" font-size="8.0" dy="2.86" textLength="35.1" lengthAdjust="spacingAndGlyphs" fill="#000" stroke="#000" stroke-width="0.15" xml:space="preserve">BRETAGNE</text>
<text transform="translate(713.20,541.30) rotate(25.07)" font-size="8.0" dy="2.86" textLength="84.2" lengthAdjust="spacingAndGlyphs" fill="#000" stroke="#000" stroke-width="0.15" xml:space="preserve">FONDS DE GARANTIE TPE</text>
<text transform="translate(700.50,563.70) rotate(30.56)" font-size="8.0" dy="2.86" textLength="89.9" lengthAdjust="spacingAndGlyphs" fill="#000" stroke="#000" stroke-width="0.15" xml:space="preserve">CONTRAT DÉVELOPPEMENT</text>
<text transform="translate(694.20,572.30) rotate(31.00)" font-size="8.0" dy="2.86" textLength="48.0" lengthAdjust="spacingAndGlyphs" fill="#000" stroke="#000" stroke-width="0.15" xml:space="preserve">TRANSMISSION</text>
<text transform="translate(676.50,597.60) rotate(38.46)" font-size="8.0" dy="2.86" textLength="62.7" lengthAdjust="spacingAndGlyphs" fill="#000" stroke="#000" stroke-width="0.15" xml:space="preserve">PRÊT D'AMORÇAGE</text>
<text transform="translate(636.70,638.90) rotate(51.38)" font-size="8.0" dy="2.86" textLength="46.5" lengthAdjust="spacingAndGlyphs" fill="#000" stroke="#000" stroke-width="0.15" xml:space="preserve">INNO CONSEIL</text>
<text transform="translate(587.90,669.00) rotate(63.10)" font-size="8.0" dy="2.86" textLength="91.7" lengthAdjust="spacingAndGlyphs" fill="#000" stroke="#000" stroke-width="0.15" xml:space="preserve">INNO R&amp;D COLLABORATIVE</text>
<text transform="translate(559.20,681.20) rotate(69.42)" font-size="8.0" dy="2.86" textLength="66.9" lengthAdjust="spacingAndGlyphs" fill="#000" stroke="#000" stroke-width="0.15" xml:space="preserve">INNO ECO ENGAGÉE</text>
<text transform="translate(530.90,688.50) rotate(77.40)" font-size="8.0" dy="2.86" textLength="75.6" lengthAdjust="spacingAndGlyphs" fill="#000" stroke="#000" stroke-width="0.15" xml:space="preserve">INNO AVENIR PROJETS</text>
<text transform="translate(499.10,695.70) rotate(83.73)" font-size="8.0" dy="2.86" textLength="125.4" lengthAdjust="spacingAndGlyphs" fill="#000" stroke="#000" stroke-width="0.15" xml:space="preserve">FONDS D'ÉMERGENCE BRETAGNE ACTIVE</text>
<text transform="translate(439.90,695.70) rotate(96.10)" font-size="8.0" dy="2.86" textLength="58.3" lengthAdjust="spacingAndGlyphs" fill="#000" stroke="#000" stroke-width="0.15" xml:space="preserve">INNO MARKET'UP</text>
<text transform="translate(381.90,687.10) rotate(107.64)" font-size="8.0" dy="2.86" textLength="70.9" lengthAdjust="spacingAndGlyphs" fill="#000" stroke="#000" stroke-width="0.15" xml:space="preserve">EMERGYS BRETAGNE</text>
<text transform="translate(338.50,667.00) rotate(115.94)" font-size="8.0" dy="2.86" textLength="53.5" lengthAdjust="spacingAndGlyphs" fill="#000" stroke="#000" stroke-width="0.15" xml:space="preserve">PHAR BRETAGNE</text>
<text transform="translate(316.10,656.10) rotate(119.79)" font-size="8.0" dy="2.86" textLength="31.8" lengthAdjust="spacingAndGlyphs" fill="#000" stroke="#000" stroke-width="0.15" xml:space="preserve">BREIZH UP</text>
<text transform="translate(299.30,639.00) rotate(128.25)" font-size="8.0" dy="2.86" textLength="108.2" lengthAdjust="spacingAndGlyphs" fill="#000" stroke="#000" stroke-width="0.15" xml:space="preserve">FONDS GO CAPITAL AMORÇAGE 2</text>
<text transform="translate(291.90,633.90) rotate(129.79)" font-size="8.0" dy="2.86" textLength="74.7" lengthAdjust="spacingAndGlyphs" fill="#000" stroke="#000" stroke-width="0.15" xml:space="preserve">ET OUEST VENTURES 3</text>
<text transform="translate(213.70,651.10) rotate(-40.50)" font-size="8.0" dy="2.86" textLength="67.6" lengthAdjust="spacingAndGlyphs" fill="#000" stroke="#000" stroke-width="0.15" xml:space="preserve">BREIZH INVEST PME</text>
<text transform="translate(171.30,636.00) rotate(-36.15)" font-size="8.0" dy="2.86" textLength="91.9" lengthAdjust="spacingAndGlyphs" fill="#000" stroke="#000" stroke-width="0.15" xml:space="preserve">BRETAGNE PARTICIPATIONS</text>
<text transform="translate(138.40,604.30) rotate(-28.95)" font-size="8.0" dy="2.86" textLength="102.3" lengthAdjust="spacingAndGlyphs" fill="#000" stroke="#000" stroke-width="0.15" xml:space="preserve">BRETAGNE CAPITAL SOLIDAIRE</text>
<text transform="translate(157.10,536.10) rotate(-18.66)" font-size="8.0" dy="2.86" textLength="56.3" lengthAdjust="spacingAndGlyphs" fill="#000" stroke="#000" stroke-width="0.15" xml:space="preserve">FONDS RÉGIONAL</text>
<text transform="translate(142.20,558.00) rotate(-21.63)" font-size="8.0" dy="2.86" textLength="78.4" lengthAdjust="spacingAndGlyphs" fill="#000" stroke="#000" stroke-width="0.15" xml:space="preserve">DE GARANTIE BRETAGNE</text>
<text transform="translate(154.60,484.60) rotate(-11.21)" font-size="8.0" dy="2.86" textLength="45.8" lengthAdjust="spacingAndGlyphs" fill="#000" stroke="#000" stroke-width="0.15" xml:space="preserve">BREIZH IMMO</text>
<text transform="translate(114.80,462.20) rotate(-6.75)" font-size="8.0" dy="2.86" textLength="80.9" lengthAdjust="spacingAndGlyphs" fill="#000" stroke="#000" stroke-width="0.15" xml:space="preserve">BRETAGNE ACTIVE FINES</text>
<text transform="translate(132.30,416.50) rotate(-0.38)" font-size="8.0" dy="2.86" textLength="60.9" lengthAdjust="spacingAndGlyphs" fill="#000" stroke="#000" stroke-width="0.15" xml:space="preserve">PRÊT PARTICIPATIF</text>
<text transform="translate(123.20,430.40) rotate(-2.06)" font-size="8.0" dy="2.86" textLength="69.4" lengthAdjust="spacingAndGlyphs" fill="#000" stroke="#000" stroke-width="0.15" xml:space="preserve">DE DÉVELOPPEMENT</text>
<text transform="translate(118.40,385.80) rotate(4.90)" font-size="8.0" dy="2.86" textLength="76.1" lengthAdjust="spacingAndGlyphs" fill="#000" stroke="#000" stroke-width="0.15" xml:space="preserve">PASS CROISSANCE TPE</text>
<text transform="translate(143.70,359.80) rotate(9.46)" font-size="8.0" dy="2.86" textLength="55.4" lengthAdjust="spacingAndGlyphs" fill="#000" stroke="#000" stroke-width="0.15" xml:space="preserve">PASS FLASH TPE</text>
<text transform="translate(123.20,323.80) rotate(15.09)" font-size="8.0" dy="2.86" textLength="83.4" lengthAdjust="spacingAndGlyphs" fill="#000" stroke="#000" stroke-width="0.15" xml:space="preserve">PASS COMPÉTITIVITÉ IAA</text>
<text transform="translate(109.10,285.70) rotate(19.83)" font-size="8.0" dy="2.86" textLength="109.1" lengthAdjust="spacingAndGlyphs" fill="#000" stroke="#000" stroke-width="0.15" xml:space="preserve">PASS COMMERCE ET ARTISANAT</text>
<text transform="translate(136.10,262.00) rotate(24.06)" font-size="8.0" dy="2.86" textLength="93.2" lengthAdjust="spacingAndGlyphs" fill="#000" stroke="#000" stroke-width="0.15" xml:space="preserve">PASS INVESTISSEMENT TPE</text>
<text transform="translate(164.30,240.60) rotate(29.12)" font-size="8.0" dy="2.86" textLength="77.3" lengthAdjust="spacingAndGlyphs" fill="#000" stroke="#000" stroke-width="0.15" xml:space="preserve">PASS INVESTISSEMENT</text>
<text transform="translate(158.50,176.10) rotate(37.21)" font-size="8.0" dy="2.86" textLength="119.5" lengthAdjust="spacingAndGlyphs" fill="#000" stroke="#000" stroke-width="0.15" xml:space="preserve">DISPOSITIF D'APPUI AUX STRUCTURES</text>
<text transform="translate(197.00,220.30) rotate(34.61)" font-size="8.0" dy="2.86" textLength="62.0" lengthAdjust="spacingAndGlyphs" fill="#000" stroke="#000" stroke-width="0.15" xml:space="preserve">DE L'ESS (DASESS)</text>
<text transform="translate(230.80,183.80) rotate(42.07)" font-size="8.0" dy="2.86" textLength="59.5" lengthAdjust="spacingAndGlyphs" fill="#000" stroke="#000" stroke-width="0.15" xml:space="preserve">DISPOSITIF LOCAL</text>
<text transform="translate(197.50,167.60) rotate(41.74)" font-size="8.0" dy="2.86" textLength="95.7" lengthAdjust="spacingAndGlyphs" fill="#000" stroke="#000" stroke-width="0.15" xml:space="preserve">D'ACCOMPAGNEMENT (DLA)</text>
<text transform="translate(264.20,179.90) rotate(47.85)" font-size="8.0" dy="2.86" textLength="39.8" lengthAdjust="spacingAndGlyphs" fill="#000" stroke="#000" stroke-width="0.15" xml:space="preserve">PASS SALON</text>
<text transform="translate(281.40,157.10) rotate(52.47)" font-size="8.0" dy="2.86" textLength="46.8" lengthAdjust="spacingAndGlyphs" fill="#000" stroke="#000" stroke-width="0.15" xml:space="preserve">PASS CONSEIL</text>
<text transform="translate(309.90,121.50) rotate(62.49)" font-size="8.0" dy="2.86" textLength="62.6" lengthAdjust="spacingAndGlyphs" fill="#000" stroke="#000" stroke-width="0.15" xml:space="preserve">PASS EXPORT COM</text>
<text transform="translate(345.00,127.10) rotate(64.33)" font-size="8.0" dy="2.86" textLength="43.2" lengthAdjust="spacingAndGlyphs" fill="#000" stroke="#000" stroke-width="0.15" xml:space="preserve">PASS  SALON</text>
<text transform="translate(401.70,94.70) rotate(76.84)" font-size="8.0" dy="2.86" textLength="57.1" lengthAdjust="spacingAndGlyphs" fill="#000" stroke="#000" stroke-width="0.15" xml:space="preserve">PASS EXPORT VIE</text>
<text transform="translate(434.30,90.90) rotate(82.89)" font-size="8.0" dy="2.86" textLength="56.5" lengthAdjust="spacingAndGlyphs" fill="#000" stroke="#000" stroke-width="0.15" xml:space="preserve">PASS EXPORT RH</text>
<text transform="translate(476.50,278.90) rotate(-84.47)" font-size="7.6" dy="2.72" textLength="85.1" lengthAdjust="spacingAndGlyphs" fill="#000" font-weight="bold" stroke="#000" stroke-width="0.1" xml:space="preserve">ÊTRE ACCOMPAGNÉ·E DANS</text>
<text transform="translate(485.10,280.80) rotate(-82.18)" font-size="7.6" dy="2.72" textLength="116.2" lengthAdjust="spacingAndGlyphs" fill="#000" font-weight="bold" stroke="#000" stroke-width="0.1" xml:space="preserve">MON PROJET DE CRÉATION/REPRISE</text>
<text transform="translate(518.90,289.50) rotate(-66.23)" font-size="7.6" dy="2.72" textLength="76.2" lengthAdjust="spacingAndGlyphs" fill="#000" font-weight="bold" stroke="#000" stroke-width="0.1" xml:space="preserve">FINANCER MON PROJET,</text>
<text transform="translate(527.10,292.10) rotate(-63.27)" font-size="7.6" dy="2.72" textLength="76.0" lengthAdjust="spacingAndGlyphs" fill="#000" font-weight="bold" stroke="#000" stroke-width="0.1" xml:space="preserve">MES INVESTISSEMENTS</text>
<text transform="translate(563.30,316.50) rotate(-46.56)" font-size="7.6" dy="2.72" textLength="119.7" lengthAdjust="spacingAndGlyphs" fill="#000" font-weight="bold" stroke="#000" stroke-width="0.1" xml:space="preserve">SÉCURISER ET STABILISER MON PROJET</text>
<text transform="translate(594.30,360.00) rotate(-23.21)" font-size="7.6" dy="2.72" textLength="107.6" lengthAdjust="spacingAndGlyphs" fill="#000" font-weight="bold" stroke="#000" stroke-width="0.1" xml:space="preserve">RENFORCER MES FONDS PROPRES</text>
<text transform="translate(607.20,428.30) rotate(2.90)" font-size="7.6" dy="2.72" textLength="87.1" lengthAdjust="spacingAndGlyphs" fill="#000" font-weight="bold" stroke="#000" stroke-width="0.1" xml:space="preserve">CONSOLIDER MES APPORTS</text>
<text transform="translate(589.50,492.50) rotate(29.68)" font-size="7.6" dy="2.72" textLength="81.4" lengthAdjust="spacingAndGlyphs" fill="#000" font-weight="bold" stroke="#000" stroke-width="0.1" xml:space="preserve">CONVAINCRE MA BANQUE</text>
<text transform="translate(556.70,532.80) rotate(49.09)" font-size="7.6" dy="2.72" textLength="67.5" lengthAdjust="spacingAndGlyphs" fill="#000" font-weight="bold" stroke="#000" stroke-width="0.1" xml:space="preserve">ÊTRE ACCOMPAGNÉ·E</text>
<text transform="translate(549.50,538.50) rotate(53.32)" font-size="7.6" dy="2.72" textLength="111.5" lengthAdjust="spacingAndGlyphs" fill="#000" font-weight="bold" stroke="#000" stroke-width="0.1" xml:space="preserve">DANS MA DÉMARCHE D'INNOVATION</text>
<text transform="translate(504.10,560.50) rotate(74.98)" font-size="7.6" dy="2.72" textLength="119.6" lengthAdjust="spacingAndGlyphs" fill="#000" font-weight="bold" stroke="#000" stroke-width="0.1" xml:space="preserve">FINANCER MON PROJET D'INNOVATION</text>
<text transform="translate(455.00,562.80) rotate(94.85)" font-size="7.6" dy="2.72" textLength="87.5" lengthAdjust="spacingAndGlyphs" fill="#000" font-weight="bold" stroke="#000" stroke-width="0.1" xml:space="preserve">DÉVELOPPER LA FONCTION</text>
<text transform="translate(445.60,563.40) rotate(98.21)" font-size="7.6" dy="2.72" textLength="90.3" lengthAdjust="spacingAndGlyphs" fill="#000" font-weight="bold" stroke="#000" stroke-width="0.1" xml:space="preserve">MARKETING/COMMERCIALE</text>
<text transform="translate(422.90,556.10) rotate(108.24)" font-size="7.6" dy="2.72" textLength="120.1" lengthAdjust="spacingAndGlyphs" fill="#000" font-weight="bold" stroke="#000" stroke-width="0.1" xml:space="preserve">SÉCURISER ET STABILISER MON PROJET</text>
<text transform="translate(392.30,545.30) rotate(121.23)" font-size="7.6" dy="2.72" textLength="87.4" lengthAdjust="spacingAndGlyphs" fill="#000" font-weight="bold" stroke="#000" stroke-width="0.1" xml:space="preserve">CONSOLIDER MES APPORTS</text>
<text transform="translate(383.50,540.00) rotate(124.61)" font-size="7.6" dy="2.72" textLength="62.0" lengthAdjust="spacingAndGlyphs" fill="#000" font-weight="bold" stroke="#000" stroke-width="0.1" xml:space="preserve">ET FONDS PROPRES</text>
<text transform="translate(265.70,539.50) rotate(-31.18)" font-size="7.6" dy="2.72" textLength="91.2" lengthAdjust="spacingAndGlyphs" fill="#000" font-weight="bold" stroke="#000" stroke-width="0.1" xml:space="preserve">ACCÉLÉRER MA CROISSANCE</text>
<text transform="translate(280.90,548.50) rotate(-34.45)" font-size="7.6" dy="2.72" textLength="81.9" lengthAdjust="spacingAndGlyphs" fill="#000" font-weight="bold" stroke="#000" stroke-width="0.1" xml:space="preserve">RENFORCER MON CAPITAL</text>
<text transform="translate(250.40,386.30) rotate(8.87)" font-size="7.6" dy="2.72" textLength="76.5" lengthAdjust="spacingAndGlyphs" fill="#000" font-weight="bold" stroke="#000" stroke-width="0.1" xml:space="preserve">FINANCER MON PROJET,</text>
<text transform="translate(249.10,402.20) rotate(4.47)" font-size="7.6" dy="2.72" textLength="75.7" lengthAdjust="spacingAndGlyphs" fill="#000" font-weight="bold" stroke="#000" stroke-width="0.1" xml:space="preserve">MES INVESTISSEMENTS</text>
<text transform="translate(320.00,267.50) rotate(44.77)" font-size="7.6" dy="2.72" textLength="70.3" lengthAdjust="spacingAndGlyphs" fill="#000" font-weight="bold" stroke="#000" stroke-width="0.1" xml:space="preserve">ÊTRE ACCOMPAGNÉ·E</text>
<text transform="translate(316.60,283.70) rotate(40.72)" font-size="7.6" dy="2.72" textLength="60.7" lengthAdjust="spacingAndGlyphs" fill="#000" font-weight="bold" stroke="#000" stroke-width="0.1" xml:space="preserve">DANS MON PROJET</text>
<text transform="translate(435.60,199.00) rotate(82.01)" font-size="7.6" dy="2.72" textLength="82.0" lengthAdjust="spacingAndGlyphs" fill="#000" font-weight="bold" stroke="#000" stroke-width="0.1" xml:space="preserve">RENFORCER MON ÉQUIPE</text>
<text transform="translate(375.70,206.60) rotate(66.72)" font-size="7.6" dy="2.72" textLength="89.1" lengthAdjust="spacingAndGlyphs" fill="#000" font-weight="bold" stroke="#000" stroke-width="0.1" xml:space="preserve">PROSPECTER LES MARCHÉS</text>
<text transform="translate(375.70,243.70) rotate(62.56)" font-size="7.6" dy="2.72" textLength="55.8" lengthAdjust="spacingAndGlyphs" fill="#000" font-weight="bold" stroke="#000" stroke-width="0.1" xml:space="preserve">INTERNATIONAUX</text>
<text x="408.0" y="322.7" font-size="14.3" font-weight="bold" fill="#ffffff" stroke="#ffffff" stroke-width="0.3" textLength="56.0" lengthAdjust="spacingAndGlyphs">EXPORTER</text>
<text x="340.8" y="425.5" font-size="14.3" font-weight="bold" fill="#ffffff" stroke="#ffffff" stroke-width="0.3" textLength="70.0" lengthAdjust="spacingAndGlyphs">DÉVELOPPER</text>
<text x="524.6" y="407.6" font-size="14.3" font-weight="bold" fill="#ffffff" stroke="#ffffff" stroke-width="0.3" textLength="36.2" lengthAdjust="spacingAndGlyphs">CRÉER</text>
<text x="524.8" y="425.4" font-size="14.3" font-weight="bold" fill="#ffffff" stroke="#ffffff" stroke-width="0.3" textLength="65.5" lengthAdjust="spacingAndGlyphs">REPRENDRE</text>
<text x="442.0" y="519.6" font-size="14.3" font-weight="bold" fill="#ffffff" stroke="#ffffff" stroke-width="0.3" textLength="48.8" lengthAdjust="spacingAndGlyphs">INNOVER</text>
<text x="33.3" y="696.1" font-size="8" fill="#2b2b2b" textLength="92.7" lengthAdjust="spacingAndGlyphs">TPE COMMERCE ARTISANAT</text>
<text x="32.7" y="710.0" font-size="8" fill="#2b2b2b" textLength="35.2" lengthAdjust="spacingAndGlyphs">STARTUPS</text>
<text x="30.8" y="724.2" font-size="8" fill="#2b2b2b" textLength="77.3" lengthAdjust="spacingAndGlyphs">ENTREPRISES DE L'ESS</text>
<text x="32.3" y="738.1" font-size="8" fill="#2b2b2b" textLength="11.8" lengthAdjust="spacingAndGlyphs">TPE</text>
<text x="30.8" y="752.2" font-size="8" fill="#2b2b2b" textLength="15.2" lengthAdjust="spacingAndGlyphs">PME</text>
<text x="30.8" y="766.1" font-size="8" fill="#2b2b2b" textLength="10.7" lengthAdjust="spacingAndGlyphs">ETI</text>
<text x="30.8" y="780.0" font-size="8" fill="#2b2b2b" textLength="9.2" lengthAdjust="spacingAndGlyphs">GE</text>
</g>
</svg>
</body>
</html>
